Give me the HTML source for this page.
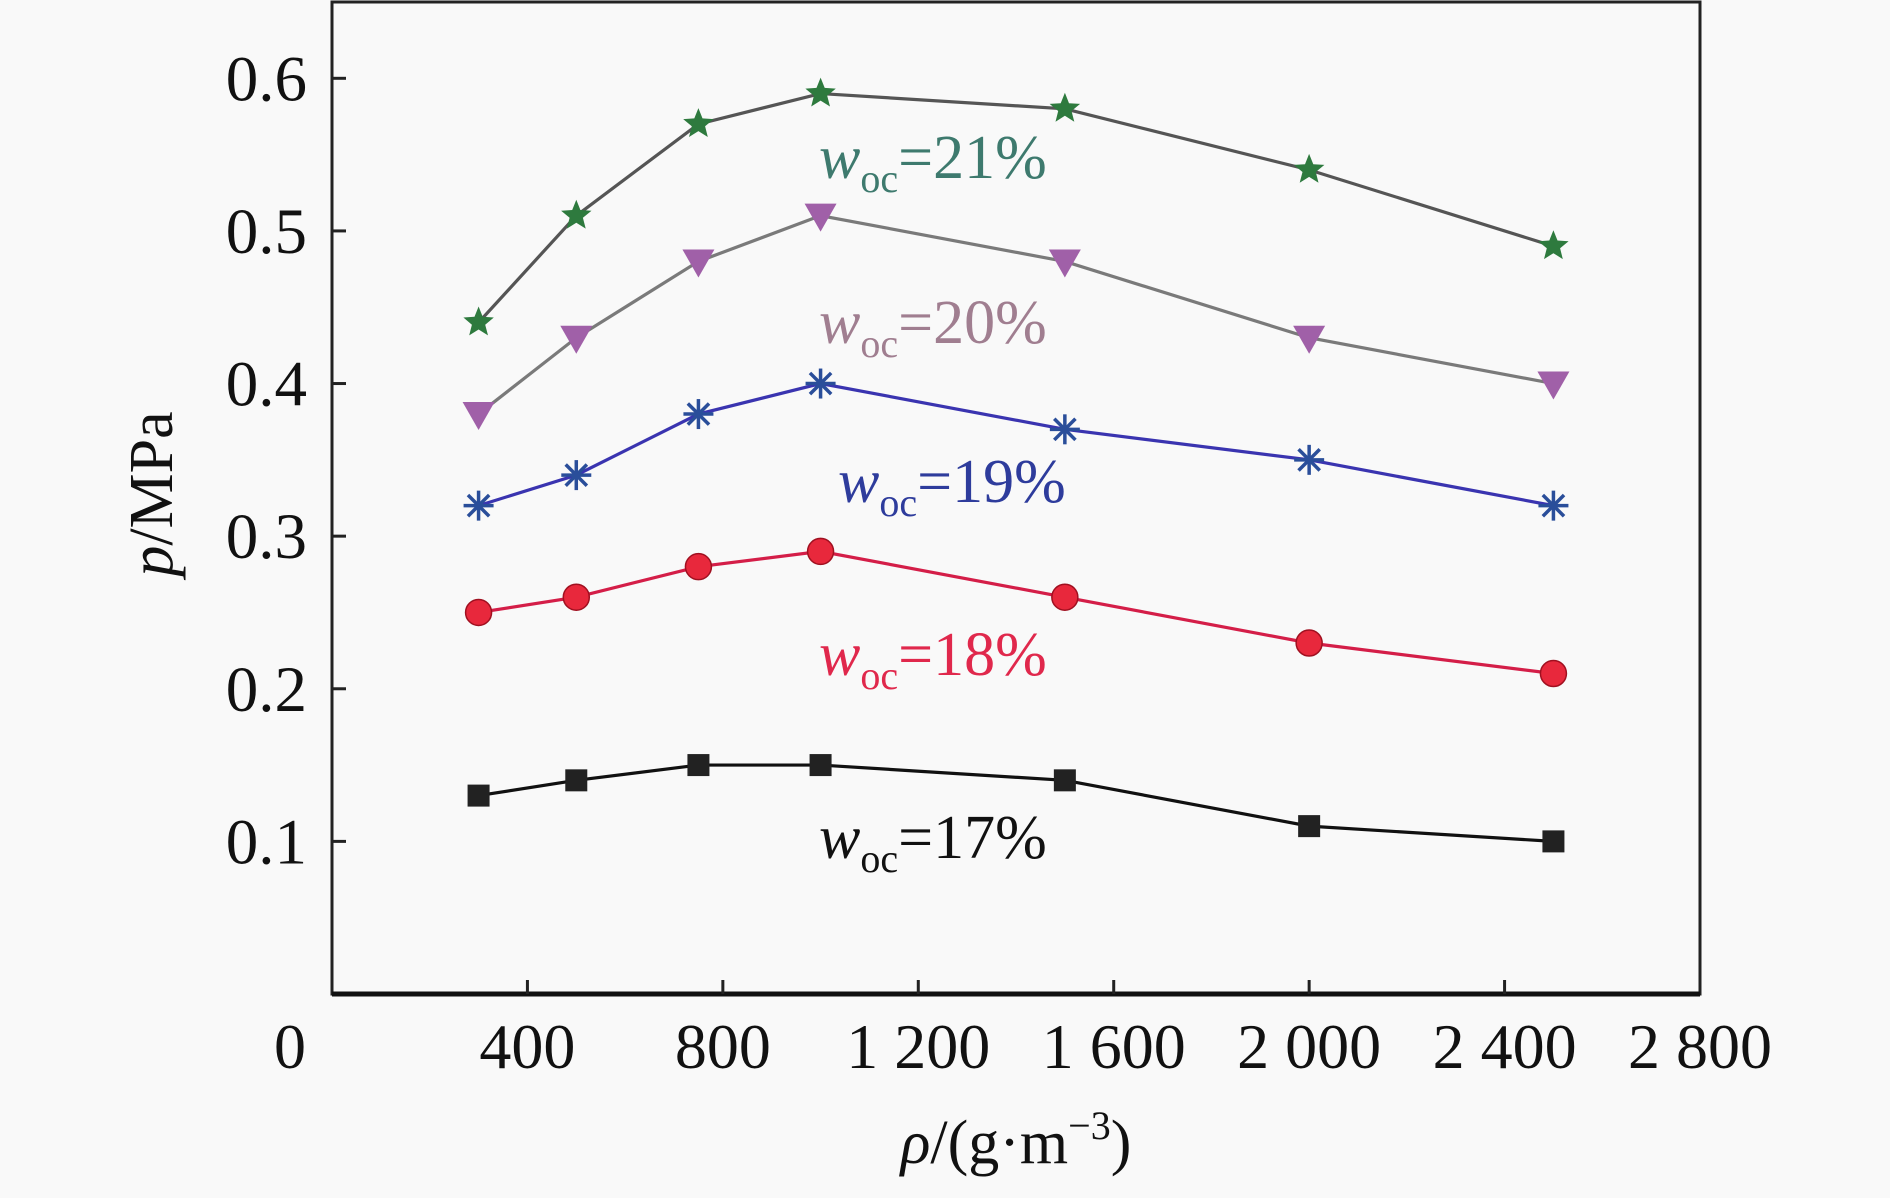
<!DOCTYPE html>
<html><head><meta charset="utf-8"><style>
body{margin:0;background:#f9f9f9;}
svg{display:block;font-family:"Liberation Serif",serif;}
</style></head><body>
<svg width="1890" height="1198" viewBox="0 0 1890 1198">
<g id="plot"></g>
</svg>
<script>
const xValues=[300,500,750,1000,1500,2000,2500];
const s17=[0.13,0.14,0.15,0.15,0.14,0.11,0.10];
const s18=[0.25,0.26,0.28,0.29,0.26,0.23,0.21];
const s19=[0.32,0.34,0.38,0.40,0.37,0.35,0.32];
const s20=[0.38,0.43,0.48,0.51,0.48,0.43,0.40];
const s21=[0.44,0.51,0.57,0.59,0.58,0.54,0.49];
const xTicks=[400,800,1200,1600,2000,2400,2800];
const xTickLabels=["400","800","1 200","1 600","2 000","2 400","2 800"];
const yTicks=[0.1,0.2,0.3,0.4,0.5,0.6];
const yTickLabels=["0.1","0.2","0.3","0.4","0.5","0.6"];
const L=332,R=1700,T=2,B=994,XMAX=2800,YMAX=0.65;
const X=v=>L+(v/XMAX)*(R-L);
const Y=v=>B-(v/YMAX)*(B-T);
const NS="http://www.w3.org/2000/svg";
const g=document.getElementById('plot');
function mk(t,a,p){const e=document.createElementNS(NS,t);for(const k in a)e.setAttribute(k,a[k]);(p||g).appendChild(e);return e;}
let e=mk('rect',{x:L,y:T,width:R-L,height:B-T,fill:'none',stroke:'#222','stroke-width':3});

e=mk('line',{x1:L,y1:B,x2:R,y2:B,stroke:'#111','stroke-width':5});

xTicks.forEach((t,i)=>{
 if(t<XMAX){let k=mk('line',{x1:X(t),y1:B,x2:X(t),y2:B-14,stroke:'#222','stroke-width':3});
 }
 let tx=mk('text',{x:X(t),y:1068,'font-size':64,'text-anchor':'middle',fill:'#111'});tx.textContent=xTickLabels[i];
 
});
e=mk('text',{x:290,y:1068,'font-size':64,'text-anchor':'middle',fill:'#111'});e.textContent='0';

yTicks.forEach((t,i)=>{
 let k=mk('line',{x1:L,y1:Y(t),x2:L+14,y2:Y(t),stroke:'#222','stroke-width':3});
 
 let tx=mk('text',{x:307,y:Y(t)+22,'font-size':65,'text-anchor':'end',fill:'#111'});tx.textContent=yTickLabels[i];
 
});
e=mk('text',{x:0,y:0,'font-size':62,'text-anchor':'middle',fill:'#111',transform:'translate(172,494) rotate(-90)'});
e.innerHTML='<tspan font-style="italic">p</tspan>/MPa';

e=mk('text',{x:1016,y:1163,'font-size':62,'text-anchor':'middle',fill:'#111'});
e.innerHTML='<tspan font-style="italic">ρ</tspan>/(g·m<tspan dy="-24" font-size="40">−3</tspan><tspan dy="24">)</tspan>';

function marker(type,cx,cy,fill,name){
 let m;
 if(type==='square'){m=mk('rect',{x:cx-11,y:cy-11,width:22,height:22,fill:fill});}
 else if(type==='circle'){m=mk('circle',{cx:cx,cy:cy,r:13,fill:fill,stroke:'#a01020','stroke-width':1.5});}
 else if(type==='tri'){m=mk('polygon',{points:`${cx-16},${cy-12} ${cx+16},${cy-12} ${cx},${cy+16}`,fill:fill});}
 else if(type==='star'){let p=[];for(let i=0;i<10;i++){const r=i%2?7:16,a=-Math.PI/2+i*Math.PI/5;p.push((cx+r*Math.cos(a)).toFixed(1)+','+(cy+r*Math.sin(a)).toFixed(1));}
  m=mk('polygon',{points:p.join(' '),fill:fill});}
 else {m=mk('g',{});for(let i=0;i<4;i++){const a=i*Math.PI/4;mk('line',{x1:cx-15*Math.cos(a),y1:cy-15*Math.sin(a),x2:cx+15*Math.cos(a),y2:cy+15*Math.sin(a),stroke:fill,'stroke-width':3.5},m);}}
 
}
const series=[
 {d:s17,line:'#111',mk:'square',mf:'#222',tc:'#111',lbl:'17',lx:819,ly:858},
 {d:s18,line:'#d41e48',mk:'circle',mf:'#e8283c',tc:'#e0284c',lbl:'18',lx:819,ly:675},
 {d:s19,line:'#3a34b0',mk:'aster',mf:'#2a4e9a',tc:'#2e3c9c',lbl:'19',lx:838,ly:502},
 {d:s20,line:'#7a7a7a',mk:'tri',mf:'#a060a8',tc:'#a07e90',lbl:'20',lx:819,ly:343},
 {d:s21,line:'#555',mk:'star',mf:'#2e7a3e',tc:'#3e7a6e',lbl:'21',lx:819,ly:178}
];
series.forEach(s=>{
 let pl=mk('polyline',{points:xValues.map((x,i)=>X(x)+','+Y(s.d[i])).join(' '),fill:'none',stroke:s.line,'stroke-width':3.2});
 
 xValues.forEach((x,i)=>marker(s.mk,X(x),Y(s.d[i]),s.mf,'point-woc-'+s.lbl));
 let t=mk('text',{x:s.lx,y:s.ly,'font-size':62,fill:s.tc});
 t.innerHTML='<tspan font-style="italic">w</tspan><tspan dy="14" font-size="40">oc</tspan><tspan dy="-14">='+s.lbl+'%</tspan>';
 
});
</script>
</body></html>
